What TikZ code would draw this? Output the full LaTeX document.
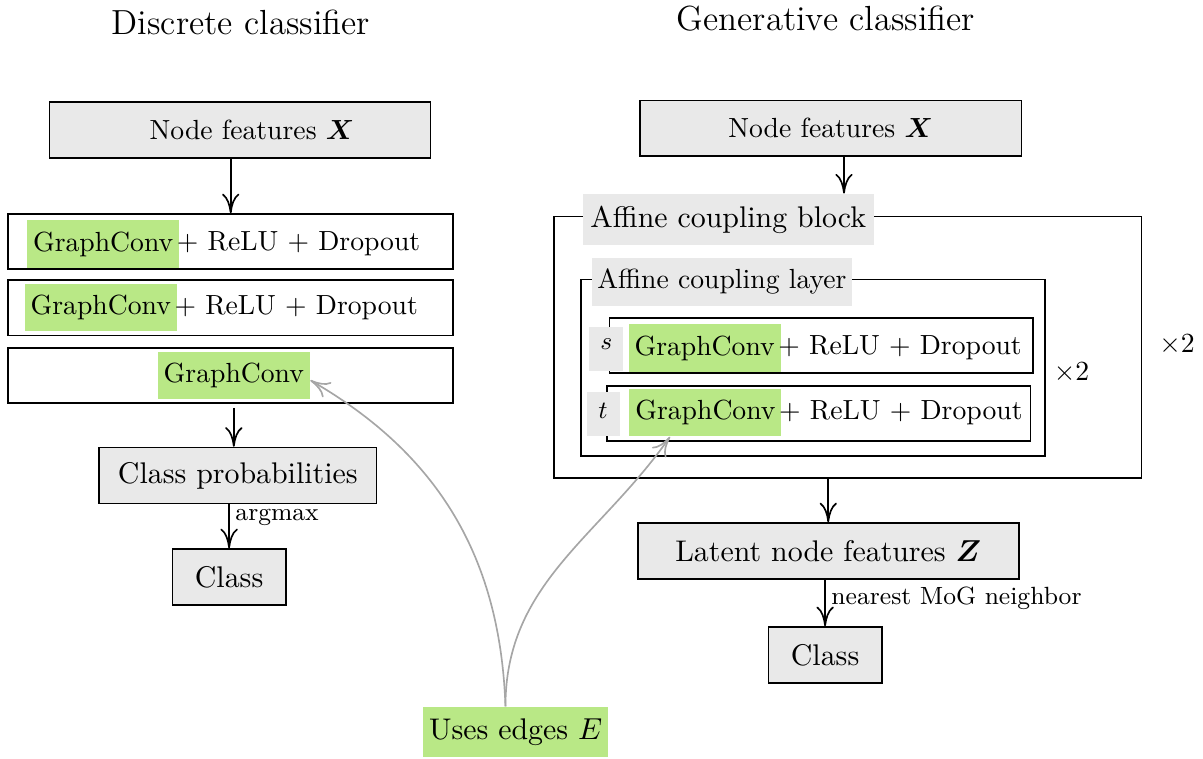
\documentclass[tikz,border=0pt]{standalone}
\usepackage{amsmath}
\usepackage{bm}
\usepackage{xcolor}
\usepackage{tikz}
\usetikzlibrary{arrows.meta, positioning}
\definecolor{convgreen}{RGB}{185,232,134}

\begin{document}
\begin{tikzpicture}[
  databox/.style={rectangle, draw=black, semithick, fill=gray!17, minimum height=0.71cm, align=center},
  rowbox/.style={rectangle, draw=black, semithick, minimum width=5.65cm, minimum height=0.70cm},
  frame/.style={rectangle, draw=black, semithick},
  conv/.style={rectangle, fill=convgreen, minimum width=1.93cm, minimum height=0.60cm, inner sep=2pt},
  tag/.style={rectangle, fill=gray!17, inner sep=2pt},
  rest/.style={inner sep=0pt},
  bigger/.style={font=\fontsize{10.8pt}{13pt}\selectfont},
  title/.style={font=\fontsize{12.6pt}{15pt}\selectfont},
  arrow/.style={-{To[length=2.5mm, width=2.2mm]}, semithick},
  edgearrow/.style={-{To[length=2.5mm, width=2.2mm]}, semithick, gray!70}
]
\useasboundingbox (0,0) rectangle (15.28,9.63);
% titles
\node[title] (titleL) at (3.06,9.35) {Discrete classifier};
\node[title] (titleR) at (10.49,9.39) {Generative classifier};
% discrete classifier
\node[databox, minimum width=4.84cm] (nfL) at (3.05,7.98) {\hspace*{0.3cm}Node features $\bm{X}$};
\node[rowbox] (d1) at (2.93,6.56) {};
\node[rowbox] (d2) at (2.93,5.72) {};
\node[rowbox] (d3) at (2.93,4.86) {};
\node[conv] (d1g) at (1.31,6.53) {GraphConv};
\node[rest, right=-1.2pt of d1g] (d1t) {$+$ ReLU $+$ Dropout};
\node[conv] (d2g) at (1.28,5.72) {GraphConv};
\node[rest, right=-1.2pt of d2g] (d2t) {$+$ ReLU $+$ Dropout};
\node[conv] (d3g) at (2.97,4.86) {GraphConv};
\node[databox, bigger, minimum width=3.52cm] (probs) at (3.02,3.59) {Class probabilities};
\node[databox, bigger, minimum width=1.44cm] (classL) at (2.91,2.30) {Class};
% generative classifier
\node[databox, minimum width=4.85cm] (nfR) at (10.55,8.00) {Node features $\bm{X}$};
\node[frame, minimum width=7.46cm, minimum height=3.32cm] (block) at (10.77,5.22) {};
\node[tag, bigger, minimum width=3.70cm, minimum height=0.65cm] (blocklbl) at (9.25,6.84) {Affine coupling block};
\node[frame, minimum width=5.89cm, minimum height=2.24cm] (layer) at (10.325,4.96) {};
\node[tag, minimum width=3.28cm, minimum height=0.61cm] (layerlbl) at (9.17,6.05) {Affine coupling layer};
\node (rep1) at (13.61,4.89) {$\times 2$};
\node (rep2) at (14.95,5.25) {$\times 2$};
\node[rowbox, minimum width=5.38cm] (srow) at (10.43,5.24) {};
\node[tag, minimum width=0.43cm, text height=6.4pt, text depth=5.6pt, font=\small] (slbl) at (7.70,5.20) {$s$};
\node[conv] (sg) at (8.95,5.21) {GraphConv};
\node[rest, right=-1.2pt of sg] (st) {$+$ ReLU $+$ Dropout};
\node[rowbox, minimum width=5.38cm] (trow) at (10.40,4.38) {};
\node[tag, minimum width=0.42cm, text height=7.4pt, text depth=4.5pt, font=\small] (tlbl) at (7.66,4.37) {$t$};
\node[conv] (tg) at (8.96,4.39) {GraphConv};
\node[rest, right=-1.2pt of tg] (tt) {$+$ ReLU $+$ Dropout};
\node[databox, bigger, minimum width=4.84cm] (latent) at (10.52,2.63) {Latent node features $\bm{Z}$};
\node[databox, bigger, minimum width=1.44cm] (classR) at (10.48,1.31) {Class};
% shared input
\node[conv, bigger, minimum width=2.35cm, minimum height=0.64cm] (uses) at (6.55,0.33) {Uses edges $E$};
% flow
\draw[arrow] (d1.north |- nfL.south) -- (d1.north);
\draw[arrow] ([yshift=-0.05cm]d3g |- d3.south) -- (d3g |- probs.north);
\draw[arrow] (classL.north |- probs.south) -- node[right, pos=0.3, font=\small, inner sep=2pt] {argmax} (classL.north);
\draw[arrow] ([xshift=0.17cm]nfR.south) -- ([xshift=0.17cm]nfR.south |- blocklbl.north);
\draw[arrow] (latent.north |- block.south) -- (latent.north);
\draw[arrow] (classR.north |- latent.south) -- node[right, pos=0.4, font=\small, inner sep=2pt] {nearest MoG neighbor} (classR.north);
\draw[edgearrow] ([xshift=-0.13cm]uses.north) to[out=92, in=-30] ([yshift=-0.06cm]d3g.east);
\draw[edgearrow] ([xshift=-0.13cm]uses.north) to[out=90, in=-125] ([xshift=-0.45cm]tg.south);
\end{tikzpicture}
\end{document}
